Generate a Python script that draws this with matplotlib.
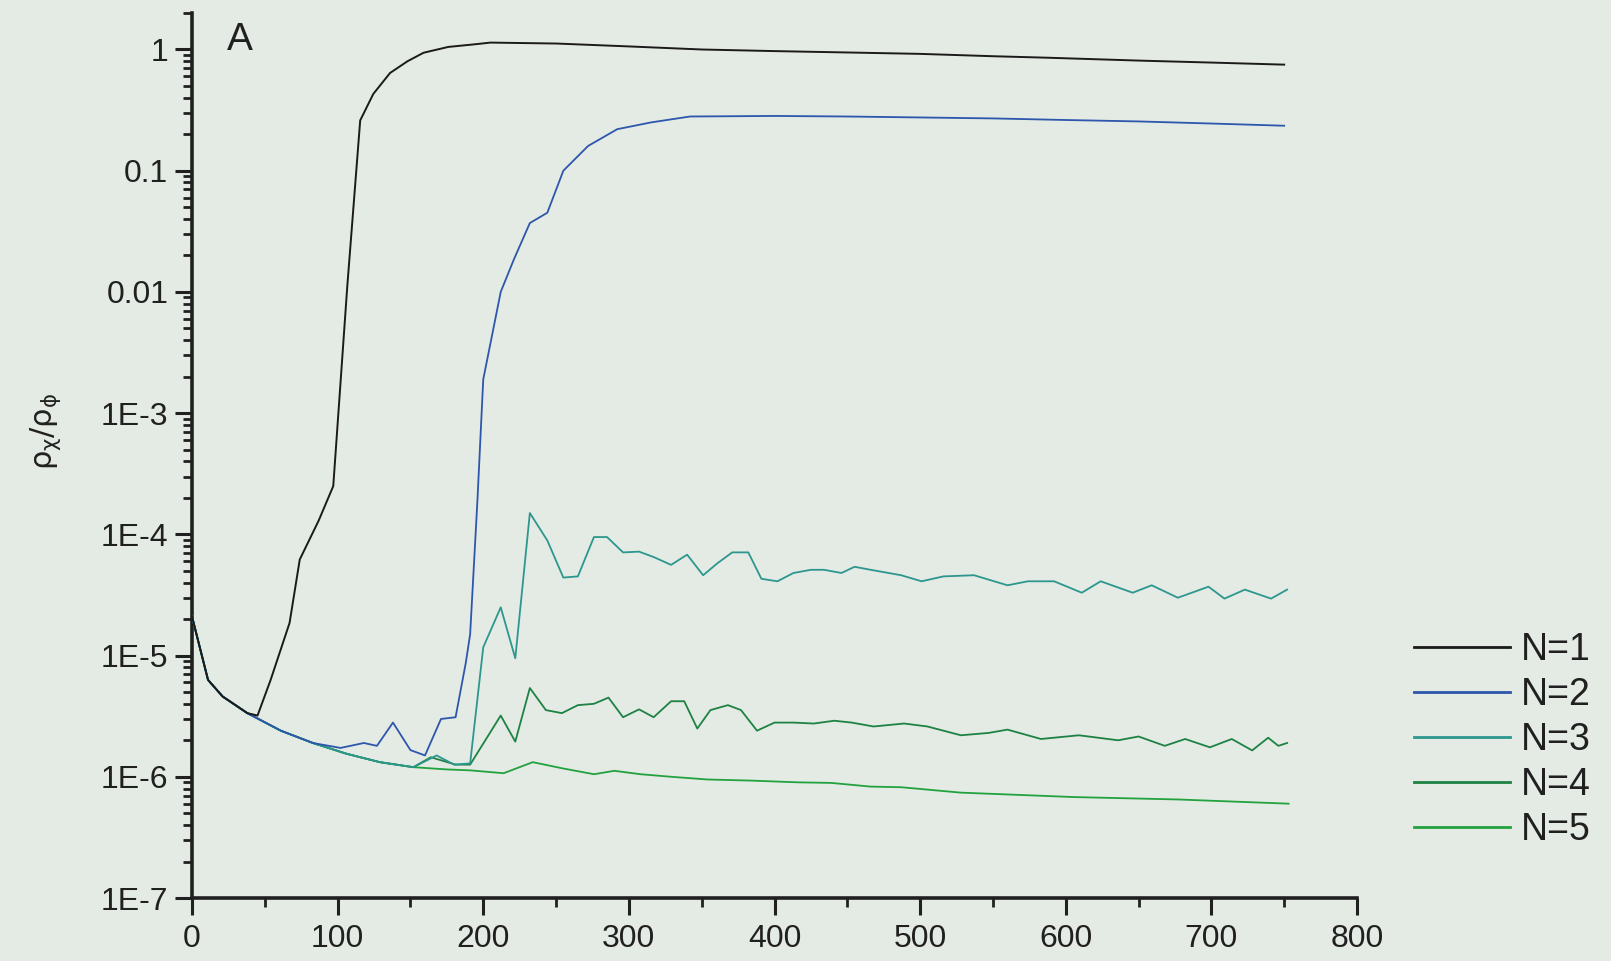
import matplotlib
matplotlib.use('Agg')
import matplotlib.pyplot as plt
from matplotlib.ticker import LogLocator, MultipleLocator, NullFormatter

# time axis and rho_chi / rho_phi for each N
t_n1 = [0, 11, 21, 38, 45, 54, 67, 74, 87, 97, 106.6, 115.5, 124.5, 136, 148, 159, 176, 193,
        205, 250, 300, 350, 400, 460, 500, 550, 588, 650, 700, 750]
r_n1 = [2.1e-5, 6.3e-6, 4.6e-6, 3.35e-6, 3.2e-6, 6.3e-6, 1.86e-5, 6.2e-5, 1.3e-4, 2.5e-4,
        0.011, 0.26, 0.43, 0.64, 0.8, 0.94, 1.05, 1.1,
        1.14, 1.12, 1.06, 1.0, 0.97, 0.94, 0.92, 0.88, 0.855, 0.81, 0.78, 0.75]

t_n2 = [0, 11, 21, 38, 61, 83, 102, 118, 127, 138, 150, 160, 171, 181, 188, 191, 196, 200,
        212, 221, 232, 244, 255, 272, 292, 315, 342, 400, 450, 500, 550, 600, 650, 700, 750]
r_n2 = [2.1e-5, 6.3e-6, 4.6e-6, 3.35e-6, 2.4e-6, 1.9e-6, 1.73e-6, 1.9e-6, 1.8e-6, 2.8e-6,
        1.66e-6, 1.5e-6, 3.0e-6, 3.1e-6, 8.7e-6, 1.5e-5, 1.9e-4, 1.9e-3,
        0.01, 0.0185, 0.037, 0.045, 0.10, 0.16, 0.22, 0.25, 0.28, 0.283, 0.28, 0.275, 0.27,
        0.262, 0.255, 0.245, 0.235]

t_n3 = [0, 11, 21, 38, 61, 83, 106, 129, 152, 168, 180, 191, 200, 212, 222, 232, 244, 255,
        265, 276, 285, 296, 307, 317, 329, 340, 351, 361, 371, 382, 391, 402, 413, 425, 434,
        446, 455, 466, 487, 501, 516, 537, 560, 574, 592, 611, 624, 646, 659, 677, 698, 709,
        723, 741, 752]
r_n3 = [2.1e-5, 6.3e-6, 4.6e-6, 3.35e-6, 2.4e-6, 1.9e-6, 1.55e-6, 1.32e-6, 1.2e-6, 1.5e-6,
        1.26e-6, 1.29e-6, 1.17e-5, 2.5e-5, 9.5e-6, 1.5e-4, 8.9e-5, 4.4e-5,
        4.5e-5, 9.5e-5, 9.5e-5, 7.1e-5, 7.2e-5, 6.5e-5, 5.6e-5, 6.8e-5, 4.6e-5, 5.8e-5, 7.1e-5,
        7.1e-5, 4.3e-5, 4.1e-5, 4.8e-5, 5.1e-5, 5.1e-5,
        4.8e-5, 5.4e-5, 5.1e-5, 4.6e-5, 4.1e-5, 4.5e-5, 4.6e-5, 3.8e-5, 4.1e-5, 4.1e-5, 3.3e-5,
        4.1e-5, 3.3e-5, 3.8e-5, 3.0e-5, 3.7e-5, 2.95e-5,
        3.5e-5, 2.95e-5, 3.5e-5]

t_n4 = [0, 11, 21, 38, 61, 83, 106, 129, 152, 164, 181, 191, 212, 222, 232, 243, 254, 265,
        276, 286, 296, 307, 317, 329, 338, 347, 356, 368, 377, 388, 400, 413, 427, 441, 453,
        468, 489, 505, 528, 547, 560, 583, 609, 636, 650, 668, 682, 699, 714, 728, 739, 746, 752]
r_n4 = [2.1e-5, 6.3e-6, 4.6e-6, 3.35e-6, 2.4e-6, 1.9e-6, 1.55e-6, 1.32e-6, 1.2e-6, 1.45e-6,
        1.26e-6, 1.26e-6, 3.2e-6, 1.95e-6, 5.4e-6, 3.55e-6, 3.35e-6, 3.9e-6,
        4.0e-6, 4.5e-6, 3.1e-6, 3.6e-6, 3.1e-6, 4.2e-6, 4.2e-6, 2.5e-6, 3.55e-6, 3.9e-6, 3.55e-6,
        2.4e-6, 2.8e-6, 2.8e-6, 2.75e-6, 2.9e-6, 2.8e-6,
        2.6e-6, 2.75e-6, 2.6e-6, 2.2e-6, 2.3e-6, 2.45e-6, 2.05e-6, 2.2e-6, 2.0e-6, 2.15e-6,
        1.8e-6, 2.05e-6, 1.75e-6, 2.05e-6, 1.65e-6, 2.1e-6, 1.8e-6, 1.9e-6]

t_n5 = [0, 11, 21, 38, 61, 83, 106, 129, 152, 175, 191, 214, 234, 255, 276, 290, 308, 329,
        354, 384, 416, 439, 466, 487, 528, 606, 677, 753]
r_n5 = [2.1e-5, 6.3e-6, 4.6e-6, 3.35e-6, 2.4e-6, 1.9e-6, 1.55e-6, 1.32e-6, 1.2e-6, 1.15e-6,
        1.13e-6, 1.07e-6, 1.32e-6, 1.17e-6, 1.05e-6, 1.12e-6, 1.05e-6, 1.0e-6,
        9.5e-7, 9.3e-7, 9.0e-7, 8.9e-7, 8.3e-7, 8.2e-7, 7.4e-7, 6.8e-7, 6.5e-7, 6.0e-7]

labels = ['N=1', 'N=2', 'N=3', 'N=4', 'N=5']
y_ticks = [1, 0.1, 0.01, 1e-3, 1e-4, 1e-5, 1e-6, 1e-7]
y_tick_labels = ['1', '0.1', '0.01', '1E-3', '1E-4', '1E-5', '1E-6', '1E-7']
x_ticks = [0, 100, 200, 300, 400, 500, 600, 700, 800]

bg = '#e4eae4'
ink = '#202020'
colors = ['#1a1a1a', '#2d56ad', '#2c978e', '#1d8244', '#22a23e']
widths = [1.4, 1.3, 1.3, 1.3, 1.3]

plt.rcParams['font.family'] = ['Liberation Sans', 'DejaVu Sans']
# upright greek in the axis label
plt.rcParams['mathtext.fontset'] = 'custom'
plt.rcParams['mathtext.rm'] = 'DejaVu Sans'
plt.rcParams['mathtext.it'] = 'DejaVu Sans'
plt.rcParams['mathtext.bf'] = 'DejaVu Sans:bold'


def draw():
    fig = plt.figure(figsize=(16.11, 9.61), dpi=100, facecolor=bg)
    ax = fig.add_axes([192 / 1611, 63 / 961, 1165 / 1611, 885 / 961])
    ax.set_facecolor(bg)

    series = [(t_n1, r_n1), (t_n2, r_n2), (t_n3, r_n3), (t_n4, r_n4), (t_n5, r_n5)]
    # draw the lower curves first so N=1 sits on top
    for i in reversed(range(len(series))):
        t, r = series[i]
        ax.plot(t, r, color=colors[i], lw=widths[i], label=labels[i], zorder=3 + (5 - i) * 0.1)

    ax.set_yscale('log')
    ax.set_xlim(0, 800)
    ax.set_ylim(1e-7, 2.0)

    for side in ['top', 'right']:
        ax.spines[side].set_visible(False)
    for side in ['left', 'bottom']:
        ax.spines[side].set_linewidth(2.6)
        ax.spines[side].set_color(ink)

    ax.set_yticks(y_ticks, y_tick_labels)
    ax.yaxis.set_minor_locator(LogLocator(base=10, subs=range(2, 10), numticks=20))
    ax.yaxis.set_minor_formatter(NullFormatter())
    ax.set_xticks(x_ticks)
    ax.xaxis.set_minor_locator(MultipleLocator(50))

    ax.tick_params(which='major', direction='out', length=12, width=2.2, color=ink,
                   labelsize=23, labelcolor=ink, pad=5)
    ax.tick_params(axis='x', which='major', pad=7)
    ax.tick_params(which='minor', direction='out', length=6.5, width=2.0, color=ink)

    ax.text(0.03, 0.99, 'A', transform=ax.transAxes, fontsize=28, color=ink,
            ha='left', va='top')
    fig.text(46 / 1611, 1 - 432 / 961, r'$\rho_\chi/\rho_\phi$', rotation=90,
             fontsize=22, color=ink, ha='center', va='center')

    handles, names = ax.get_legend_handles_labels()
    order = [names.index(n) for n in labels]
    leg = ax.legend([handles[k] for k in order], [names[k] for k in order],
                    loc='upper left', bbox_to_anchor=(1414 / 1611, 1 - 632 / 961),
                    bbox_transform=fig.transFigure, frameon=False, fontsize=27,
                    handlelength=2.55, handletextpad=0.3, labelspacing=0.24, borderpad=0,
                    borderaxespad=0)
    for line in leg.get_lines():
        line.set_linewidth(2.0)
    for txt in leg.get_texts():
        txt.set_color(ink)

    fig.savefig('out.png', dpi=100, facecolor=bg)


draw()
